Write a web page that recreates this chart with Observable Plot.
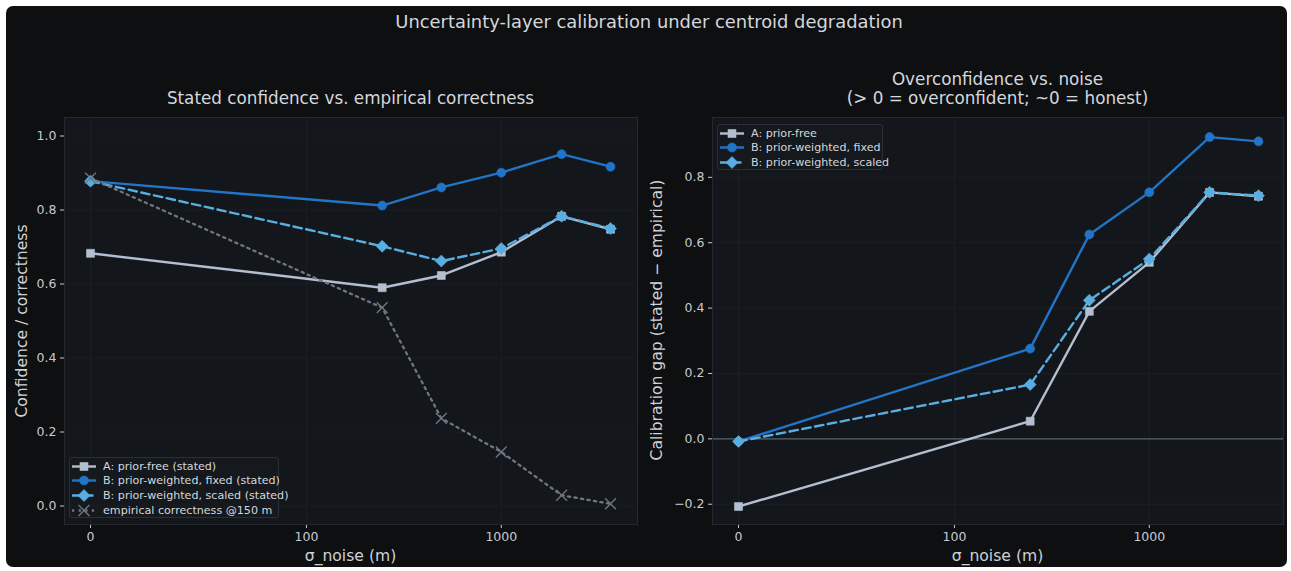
<!DOCTYPE html>
<html>
<head>
<meta charset="utf-8">
<script src="https://cdn.jsdelivr.net/npm/d3@7"></script>
<script src="https://cdn.jsdelivr.net/npm/@observablehq/plot@0.6"></script>
<style>
  html, body { margin: 0; padding: 0; background: #ffffff; }
  #root { position: relative; width: 1291px; height: 571px; overflow: hidden; font-family: "DejaVu Sans", sans-serif; }
  #bg { position: absolute; left: 6px; top: 6px; width: 1281px; height: 561px; background: #0e0f11; border-radius: 7px; }
  .txt { position: absolute; white-space: nowrap; color: #d2d5da; transform: translate(-50%, -50%); line-height: 1; }
  .plot { position: absolute; top: 100px; }
  .legend { position: absolute; background: rgba(22,25,30,0.9); border: 1px solid #2a2f37; border-radius: 3px; box-sizing: border-box; padding: 1px 0 0 2px; overflow: visible; }
  .legrow { display: flex; align-items: center; height: 14.6px; font-size: 11.1px; color: #d4d7dc; white-space: nowrap; }
  .legrow svg { flex: none; margin-right: 7px; }
</style>
</head>
<body>
<div id="root">
  <div id="bg"></div>
</div>
<script>
// ---------------- data ----------------
const sigma = [0, 250, 500, 1000, 2000, 3500];
const statedA       = [0.683, 0.590, 0.623, 0.686, 0.783, 0.748];
const statedBFixed  = [0.878, 0.812, 0.861, 0.901, 0.951, 0.917];
const statedBScaled = [0.878, 0.702, 0.662, 0.696, 0.783, 0.750];
const empirical     = [0.886, 0.536, 0.237, 0.146, 0.029, 0.006];
const gapA       = [-0.207, 0.054, 0.390, 0.540, 0.754, 0.742];
const gapBFixed  = [-0.008, 0.276, 0.625, 0.754, 0.923, 0.910];
const gapBScaled = [-0.008, 0.166, 0.424, 0.550, 0.754, 0.744];

const xTicks = [0, 100, 1000];
const yTicksLeft = [0.0, 0.2, 0.4, 0.6, 0.8, 1.0];
const yTicksRight = [-0.2, 0.0, 0.2, 0.4, 0.6, 0.8];

const mainTitle = "Uncertainty-layer calibration under centroid degradation";
const leftTitle = "Stated confidence vs. empirical correctness";
const rightTitle1 = "Overconfidence vs. noise";
const rightTitle2 = "(> 0 = overconfident; ~0 = honest)";
const xLabel = "σ_noise (m)";
const yLabelLeft = "Confidence / correctness";
const yLabelRight = "Calibration gap (stated − empirical)";

const leftLegend = ["A: prior-free (stated)", "B: prior-weighted, fixed (stated)", "B: prior-weighted, scaled (stated)", "empirical correctness @150 m"];
const rightLegend = ["A: prior-free", "B: prior-weighted, fixed", "B: prior-weighted, scaled"];

// ---------------- styles ----------------
const styles = [
  {color: "#b3bfcf", symbol: "square", r: 4.5, dash: null, width: 2.4, fill: true},
  {color: "#2274c6", symbol: "circle", r: 4.5, dash: null, width: 2.4, fill: true},
  {color: "#58aee1", symbol: "diamond2", r: 5.4, dash: "8.5,4.5", width: 2.4, fill: true},
  {color: "#6e7682", symbol: "times", r: 5.0, dash: "2.3,4.3", width: 2.3, fill: false}
];
const d3Symbols = {square: d3.symbolSquare, circle: d3.symbolCircle, diamond2: d3.symbolDiamond2, times: d3.symbolTimes};

const fmt = d => d.toFixed(1).replace("-", "\u2212");

function seriesMarks(values, st) {
  const data = sigma.map((s, i) => ({s, v: values[i]}));
  const marks = [
    Plot.line(data, {x: "s", y: "v", stroke: st.color, strokeWidth: st.width, strokeDasharray: st.dash || undefined})
  ];
  if (st.fill) {
    marks.push(Plot.dot(data, {x: "s", y: "v", symbol: st.symbol, r: st.r, fill: st.color, stroke: st.color, strokeWidth: 0.6}));
  } else {
    marks.push(Plot.dot(data, {x: "s", y: "v", symbol: st.symbol, r: st.r, fill: "none", stroke: st.color, strokeWidth: 1.4}));
  }
  return marks;
}

function makePlot({width, marginLeft, marginRight, insetLeft, insetRight, yDomain, yTicks, series, zeroLine}) {
  return Plot.plot({
    width, height: 471,
    marginLeft, marginRight, marginTop: 17, marginBottom: 47,
    style: {background: "transparent", color: "#c6cad0", fontFamily: "DejaVu Sans", fontSize: "12.5px", overflow: "visible"},
    x: {type: "symlog", constant: 9.3, domain: [0, 3500], insetLeft, insetRight, ticks: xTicks, tickFormat: d => String(d), tickSize: 4, tickPadding: 3.5, label: null},
    y: {domain: yDomain, ticks: yTicks, tickFormat: fmt, tickSize: 4, tickPadding: 4, label: null},
    marks: [
      Plot.frame({fill: "#13161b", stroke: "none"}),
      Plot.ruleY(yTicks, {stroke: "#1c2026", strokeWidth: 0.9}),
      Plot.ruleX(xTicks, {stroke: "#1c2026", strokeWidth: 0.9}),
      ...(zeroLine ? [Plot.ruleY([0], {stroke: "#5b626d", strokeWidth: 1.2})] : []),
      ...series.flatMap(([vals, st]) => seriesMarks(vals, st)),
      Plot.frame({fill: "none", stroke: "#242931", strokeWidth: 1})
    ]
  });
}

const root = document.getElementById("root");

function addText(str, x, y, size, color) {
  const d = document.createElement("div");
  d.className = "txt";
  d.textContent = str;
  d.style.left = x + "px";
  d.style.top = y + "px";
  d.style.fontSize = size + "px";
  if (color) d.style.color = color;
  root.appendChild(d);
  return d;
}

// left plot
const left = makePlot({
  width: 650, marginLeft: 64, marginRight: 13, insetLeft: 26, insetRight: 27,
  yDomain: [-0.05, 1.05], yTicks: yTicksLeft,
  series: [[statedA, styles[0]], [statedBFixed, styles[1]], [statedBScaled, styles[2]], [empirical, styles[3]]],
  zeroLine: false
});
left.classList.add("plot");
left.style.left = "0px";
root.appendChild(left);

// right plot
const right = makePlot({
  width: 641, marginLeft: 62, marginRight: 8, insetLeft: 26, insetRight: 25,
  yDomain: [-0.262, 0.983], yTicks: yTicksRight,
  series: [[gapA, styles[0]], [gapBFixed, styles[1]], [gapBScaled, styles[2]]],
  zeroLine: true
});
right.classList.add("plot");
right.style.left = "650px";
root.appendChild(right);

// titles and labels
addText(mainTitle, 649, 22, 17.9, "#d4d7dc");
addText(leftTitle, 350.5, 98, 16.8, "#d4d7dc");
addText(rightTitle1, 997.5, 79, 16.8, "#d4d7dc");
addText(rightTitle2, 997.5, 98, 16.8, "#d4d7dc");
addText(xLabel, 350.5, 557, 15.6, "#cfd2d7");
addText(xLabel, 997.5, 557, 15.6, "#cfd2d7");
const yl = addText(yLabelLeft, 23, 321, 15.6, "#cfd2d7");
yl.style.transform = "translate(-50%, -50%) rotate(-90deg)";
const yr = addText(yLabelRight, 658, 320, 15.6, "#cfd2d7");
yr.style.transform = "translate(-50%, -50%) rotate(-90deg)";

// legends
function addLegend(labels, left, top, width, height) {
  const box = document.createElement("div");
  box.className = "legend";
  box.style.left = left + "px";
  box.style.top = top + "px";
  box.style.width = width + "px";
  box.style.height = height + "px";
  labels.forEach((lab, i) => {
    const st = styles[i];
    const row = document.createElement("div");
    row.className = "legrow";
    const svg = d3.create("svg").attr("width", 24).attr("height", 13);
    svg.append("line").attr("x1", 0).attr("x2", 24).attr("y1", 6.5).attr("y2", 6.5)
      .attr("stroke", st.color).attr("stroke-width", st.width)
      .attr("stroke-dasharray", st.dash || null);
    const size = Math.PI * st.r * st.r;
    svg.append("path").attr("transform", "translate(12,6.5)")
      .attr("d", d3.symbol(d3Symbols[st.symbol], size)())
      .attr("fill", st.fill ? st.color : "none")
      .attr("stroke", st.color).attr("stroke-width", st.fill ? 0.6 : 1.4);
    row.appendChild(svg.node());
    const t = document.createElement("span");
    t.textContent = lab;
    row.appendChild(t);
    box.appendChild(row);
  });
  root.appendChild(box);
}
addLegend(leftLegend, 69, 457, 210, 61);
addLegend(rightLegend, 717, 124, 166, 46);
</script>
</body>
</html>
